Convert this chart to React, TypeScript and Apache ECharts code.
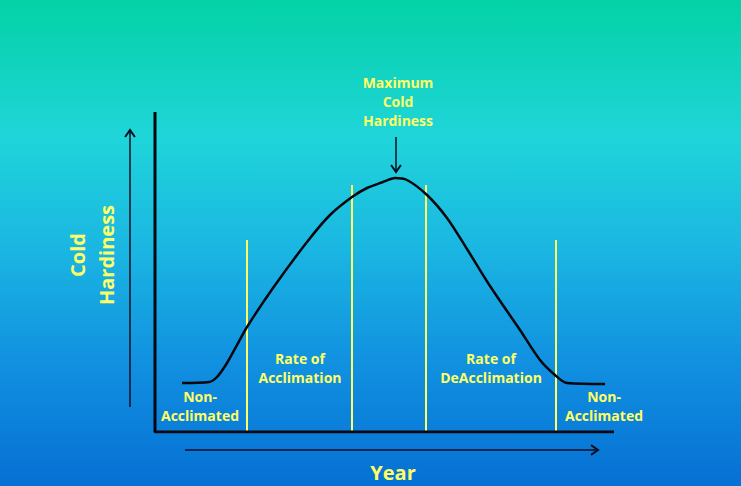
import React, { useEffect, useRef } from "react";
import * as echarts from "echarts";

// Curve: x = time along the year (grid units), y = cold hardiness (grid units)
const curveX = [27, 54, 62, 72, 82, 92, 118, 152, 175, 197, 212, 228, 240, 252, 272, 292, 312, 335, 365, 385, 400, 412, 450];
const curveY = [49, 50, 55, 69, 87, 105, 144, 190, 217, 235, 244, 250, 254, 252, 237, 214, 183, 146, 102, 72, 57, 49, 48];
// Phase boundaries (x) and their heights (y)
const boundaryX = [92, 197, 271, 401];
const boundaryTop = [192, 247, 247, 192];
const phaseLabels = [
  { text: "Non-\nAcclimated", x: 200, y: 406 },
  { text: "Rate of\nAcclimation", x: 300, y: 368 },
  { text: "Rate of\nDeAcclimation", x: 491, y: 368 },
  { text: "Non-\nAcclimated", x: 604, y: 406 },
];

const YELLOW = "#ffff66";
const FONT = "'Comic Sans MS', 'Open Sans', 'Noto Sans', sans-serif";

export default function App() {
  const ref = useRef<HTMLDivElement>(null);
  useEffect(() => {
    if (!ref.current) return;
    const chart = echarts.init(ref.current, undefined, { renderer: "svg" });
    const gridLeft = 155, gridTop = 112, gridW = 459, gridH = 320;
    const arrowHead = (x: number, y: number, dir: "up" | "down" | "right") => {
      const s = 7;
      let pts: number[][];
      if (dir === "up") pts = [[x - s * 0.7, y + s], [x, y], [x + s * 0.7, y + s]];
      else if (dir === "down") pts = [[x - s * 0.7, y - s], [x, y], [x + s * 0.7, y - s]];
      else pts = [[x - s, y - s * 0.7], [x, y], [x - s, y + s * 0.7]];
      return { type: "polyline", shape: { points: pts }, style: { stroke: "#0a1020", lineWidth: 2, fill: "none" }, z: 10 };
    };
    const textStyle = (size: number) => ({
      fill: YELLOW,
      font: `bold ${size}px ${FONT}`,
      align: "center",
      verticalAlign: "middle",
      lineHeight: size + 5,
    });
    chart.setOption({
      animation: false,
      backgroundColor: new echarts.graphic.LinearGradient(0, 0, 0, 1, [
        { offset: 0, color: "#03d2a6" },
        { offset: 0.28, color: "#1fd5d9" },
        { offset: 0.5, color: "#1bb8e2" },
        { offset: 0.75, color: "#1190e0" },
        { offset: 1, color: "#0670d4" },
      ]),
      grid: { left: gridLeft, top: gridTop, width: gridW, height: gridH, containLabel: false },
      xAxis: {
        type: "value", min: 0, max: gridW,
        axisLine: { show: false }, axisTick: { show: false }, axisLabel: { show: false }, splitLine: { show: false },
      },
      yAxis: {
        type: "value", min: 0, max: gridH,
        axisLine: { show: false }, axisTick: { show: false }, axisLabel: { show: false }, splitLine: { show: false },
      },
      series: [
        {
          type: "line",
          data: curveX.map((x, i) => [x, curveY[i]]),
          smooth: 0.3,
          symbol: "none",
          lineStyle: { color: "#05070f", width: 2.5 },
          z: 5,
          markLine: {
            silent: true,
            symbol: ["none", "none"],
            label: { show: false },
            lineStyle: { color: YELLOW, width: 2, type: "solid" },
            data: boundaryX.map((x, i) => [{ coord: [x, 0] }, { coord: [x, boundaryTop[i]] }]),
          },
        },
        {
          type: "line",
          data: [[0, gridH], [0, 0], [gridW, 0]],
          symbol: "none",
          lineStyle: { color: "#05070f", width: 3 },
          z: 6,
        },
      ],
      graphic: [
        // Year arrow
        { type: "line", shape: { x1: 185, y1: 450, x2: 598, y2: 450 }, style: { stroke: "#0a1020", lineWidth: 1.5 } },
        arrowHead(598, 450, "right"),
        // Cold hardiness arrow
        { type: "line", shape: { x1: 130, y1: 407, x2: 130, y2: 130 }, style: { stroke: "#0a1020", lineWidth: 1.5 } },
        arrowHead(130, 130, "up"),
        // Maximum arrow
        { type: "line", shape: { x1: 396, y1: 137, x2: 396, y2: 172 }, style: { stroke: "#0a1020", lineWidth: 1.5 } },
        arrowHead(396, 172, "down"),
        { type: "text", x: 398, y: 101, style: { text: "Maximum\nCold\nHardiness", ...textStyle(14) } },
        ...phaseLabels.map((p) => ({ type: "text", x: p.x, y: p.y, style: { text: p.text, ...textStyle(14) } })),
        { type: "text", x: 92, y: 255, rotation: Math.PI / 2, style: { text: "Cold\nHardiness", ...textStyle(20), lineHeight: 29 } },
        { type: "text", x: 393, y: 472, style: { text: "Year", ...textStyle(20), lineHeight: 20 } },
      ],
    });
    return () => chart.dispose();
  }, []);
  return <div ref={ref} style={{ position: "fixed", left: 0, top: 0, width: 741, height: 486 }} />;
}
